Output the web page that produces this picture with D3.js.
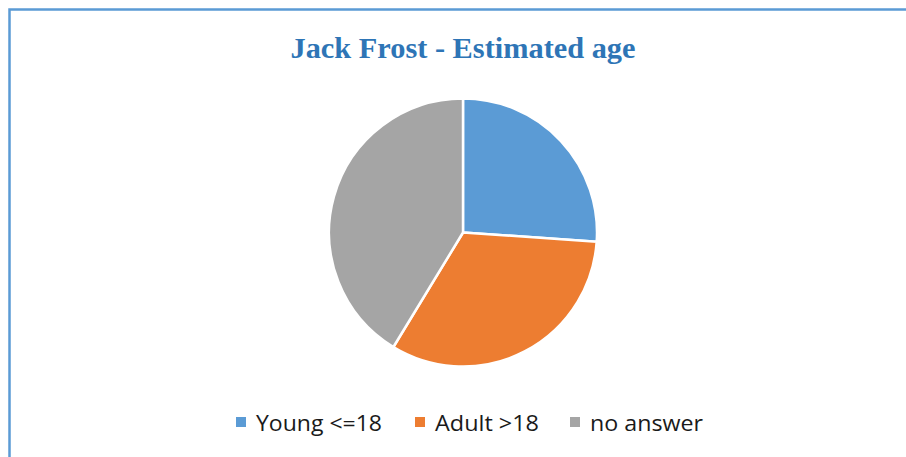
<!DOCTYPE html>
<html>
<head>
<meta charset="utf-8">
<script src="https://cdn.jsdelivr.net/npm/d3@7"></script>
<style>
  html, body { margin: 0; padding: 0; background: #fff; }
  svg { display: block; }
</style>
</head>
<body>
<svg id="chart" width="906" height="457"></svg>
<script>
// Survey answers: estimated age of Jack Frost
const categories = ["Young <=18", "Adult >18", "no answer"];
const counts = [12, 15, 19];
const colors = ["#5b9bd5", "#ed7d31", "#a5a5a5"];
const title = "Jack Frost - Estimated age";

const svg = d3.select("#chart");
const W = 906, H = 457;

// chart frame (continues past the right and bottom edges)
svg.append("rect")
  .attr("x", 9.5).attr("y", 9.5)
  .attr("width", W + 20).attr("height", H + 20)
  .attr("fill", "#fff")
  .attr("stroke", "#5b9bd5")
  .attr("stroke-width", 2.5);

// title
svg.append("text")
  .attr("x", 463).attr("y", 57.5)
  .attr("text-anchor", "middle")
  .attr("font-family", "'Liberation Serif', 'DejaVu Serif', serif")
  .attr("font-weight", "bold")
  .attr("font-size", 29.5)
  .attr("fill", "#2e75b6")
  .attr("textLength", 345)
  .attr("lengthAdjust", "spacingAndGlyphs")
  .text(title);

// pie
const cx = 463, cy = 232.5, r = 134;
const pie = d3.pie().sort(null).value(d => d)(counts);
const arc = d3.arc().innerRadius(0).outerRadius(r);
const color = d3.scaleOrdinal().domain(categories).range(colors);

svg.append("g")
  .attr("transform", `translate(${cx},${cy})`)
  .selectAll("path")
  .data(pie)
  .join("path")
  .attr("d", arc)
  .attr("fill", (d, i) => color(categories[i]))
  .attr("stroke", "#fff")
  .attr("stroke-width", 2.5)
  .attr("stroke-linejoin", "round");

// legend
const legendX = [236, 415, 570];
const legendW = [126, 104, 113];
const legend = svg.append("g");
categories.forEach((c, i) => {
  legend.append("rect")
    .attr("x", legendX[i]).attr("y", 417)
    .attr("width", 10).attr("height", 10)
    .attr("fill", color(c));
  legend.append("text")
    .attr("x", legendX[i] + 20).attr("y", 430.5)
    .attr("font-family", "'Open Sans', 'Liberation Sans', sans-serif")
    .attr("font-size", 22.5)
    .attr("fill", "#1a1a1a")
    .attr("textLength", legendW[i])
    .attr("lengthAdjust", "spacingAndGlyphs")
    .text(c);
});
</script>
</body>
</html>
